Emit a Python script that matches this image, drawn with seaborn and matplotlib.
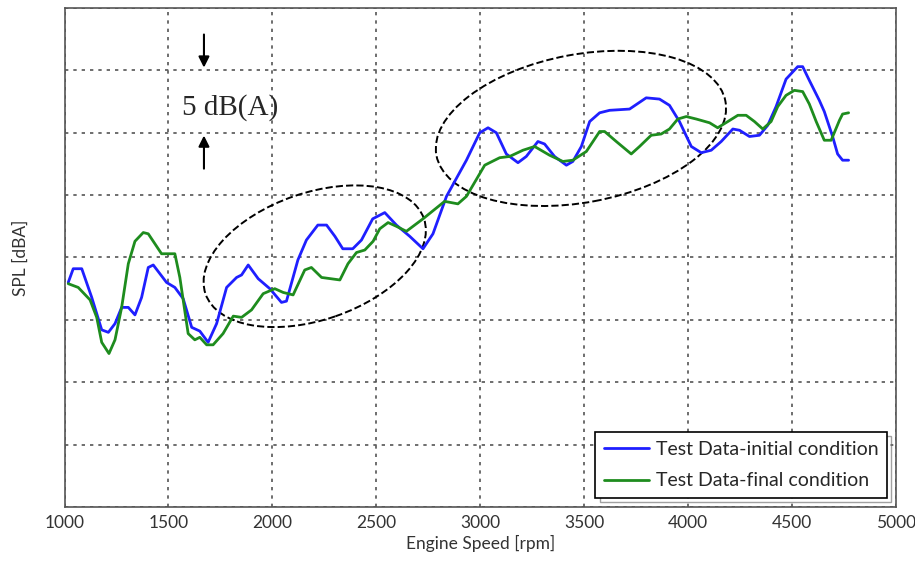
#!/usr/bin/env python3
# -*- coding: utf-8 -*-
"""SPL vs engine speed, initial vs final condition."""

import numpy as np
import pandas as pd
import seaborn as sns
import matplotlib.pyplot as plt
from matplotlib.patches import Ellipse
from matplotlib.transforms import ScaledTranslation

# %% Data

lst_rpm_init = [1018, 1042, 1083, 1131, 1179, 1211, 1243, 1275, 1307, 1339,
                1371, 1403, 1427, 1459, 1491, 1531, 1571, 1612, 1651, 1691,
                1732, 1780, 1828, 1852, 1884, 1932, 1988, 2044, 2068, 2123,
                2164, 2219, 2261, 2301, 2339, 2387, 2429, 2483, 2541, 2597,
                2661, 2725, 2773, 2838, 2934, 2998, 3038, 3078, 3126, 3182,
                3222, 3278, 3310, 3358, 3415, 3446, 3487, 3527, 3575, 3623,
                3719, 3799, 3863, 3911, 3959, 4016, 4064, 4112, 4160, 4216,
                4248, 4296, 4344, 4384, 4424, 4472, 4528, 4552, 4584, 4632,
                4656, 4696, 4720, 4744, 4773]
lst_spl_init = [78.0, 79.1, 79.1, 76.8, 74.2, 74.0, 74.7, 76.0, 76.0, 75.4,
                76.8, 79.2, 79.4, 78.7, 78.0, 77.6, 76.7, 74.4, 74.1, 73.2,
                74.7, 77.6, 78.4, 78.6, 79.4, 78.3, 77.5, 76.4, 76.5, 79.8,
                81.4, 82.6, 82.6, 81.7, 80.7, 80.7, 81.4, 83.1, 83.6, 82.6,
                81.7, 80.7, 81.9, 84.9, 87.8, 90.0, 90.4, 90.0, 88.3, 87.6,
                88.1, 89.3, 89.1, 88.1, 87.4, 87.7, 88.9, 90.9, 91.6, 91.8,
                91.9, 92.8, 92.7, 92.2, 90.9, 88.9, 88.4, 88.6, 89.3, 90.3,
                90.2, 89.7, 89.8, 90.6, 92.1, 94.3, 95.3, 95.3, 94.2, 92.6,
                91.7, 89.7, 88.3, 87.8, 87.8]

lst_rpm_final = [1018, 1066, 1123, 1155, 1179, 1214, 1243, 1275, 1307, 1339,
                 1379, 1403, 1435, 1467, 1531, 1555, 1595, 1627, 1651, 1684,
                 1715, 1763, 1812, 1852, 1900, 1956, 2012, 2052, 2100, 2156,
                 2188, 2237, 2325, 2364, 2405, 2445, 2485, 2517, 2557, 2597,
                 2645, 2725, 2829, 2893, 2934, 3022, 3094, 3142, 3206, 3262,
                 3334, 3398, 3446, 3511, 3575, 3599, 3655, 3727, 3767, 3823,
                 3871, 3911, 3951, 3992, 4040, 4104, 4143, 4192, 4240, 4280,
                 4320, 4360, 4400, 4432, 4472, 4512, 4552, 4584, 4617, 4656,
                 4689, 4729, 4744, 4773]
lst_spl_final = [77.9, 77.6, 76.6, 75.2, 73.2, 72.3, 73.4, 76.0, 79.5, 81.3,
                 82.0, 81.9, 81.1, 80.3, 80.3, 78.4, 73.9, 73.4, 73.6, 73.0,
                 73.0, 73.9, 75.3, 75.2, 75.8, 77.1, 77.5, 77.2, 77.0, 79.0,
                 79.2, 78.4, 78.2, 79.5, 80.4, 80.6, 81.3, 82.3, 82.8, 82.5,
                 82.1, 83.1, 84.5, 84.3, 84.9, 87.4, 88.0, 88.1, 88.6, 88.9,
                 88.2, 87.7, 87.8, 88.5, 90.1, 90.1, 89.3, 88.3, 88.9, 89.8,
                 89.9, 90.3, 91.1, 91.3, 91.1, 90.8, 90.4, 90.9, 91.4, 91.4,
                 90.9, 90.3, 90.9, 92.1, 93.0, 93.4, 93.3, 92.3, 90.9, 89.4,
                 89.4, 91.0, 91.5, 91.6]

lst_names = ['Test Data-initial condition', 'Test Data-final condition']
lst_colors = ['#1f1fff', '#1e8c1e']

# x / y axis settings
lst_xticks = list(range(1000, 5001, 500))
lst_yticks = list(range(60, 101, 5))

# %% Build data frame

df_init = pd.DataFrame({'rpm': lst_rpm_init, 'spl': lst_spl_init,
                        'cond': lst_names[0]})
df_final = pd.DataFrame({'rpm': lst_rpm_final, 'spl': lst_spl_final,
                         'cond': lst_names[1]})
df = pd.concat([df_init, df_final], ignore_index=True)

# %% Plot

sns.set_style('white')
plt.rcParams['font.family'] = ['Lato', 'DejaVu Sans']

fig = plt.figure(figsize=(9.15, 5.61), dpi=100)
ax = fig.add_axes([0.0705, 0.0963, 0.9085, 0.8894])

sns.lineplot(data=df, x='rpm', y='spl', hue='cond', palette=lst_colors,
             linewidth=2, sort=False, ax=ax)

ax.set_xlim(1000, 5000)
ax.set_ylim(60, 100)
ax.set_xticks(lst_xticks)
ax.set_yticks(lst_yticks)
ax.set_yticklabels([])
ax.tick_params(axis='x', labelsize=12.5, colors='#333333', length=0, pad=6)
ax.tick_params(axis='y', length=0)
ax.grid(True, color='#555555', linestyle=(0, (2, 3)), linewidth=1.2)
for spine in ax.spines.values():
    spine.set_color('#555555')
    spine.set_linewidth(1.2)

ax.set_xlabel('Engine Speed [rpm]', fontsize=12.5, color='#333333',
              labelpad=3)
ax.set_ylabel('SPL [dBA]', fontsize=12.5, color='#333333', labelpad=22)

leg = ax.legend(loc='lower right', fontsize=14, frameon=True,
                fancybox=False, edgecolor='black', framealpha=1,
                handlelength=2.3, handletextpad=0.35, borderaxespad=0.45,
                title=None, borderpad=0.45, labelspacing=0.75,
                shadow={'ox': 3, 'oy': -3, 'facecolor': 'white',
                        'edgecolor': '#444444', 'linewidth': 1})
leg.get_frame().set_linewidth(1.2)

# dashed ellipses marking regions (width / height in inches)
for cx, cy, w, h, ang in [(2204, 80.1, 2.31, 1.27, 19),
                          (3485, 90.35, 2.94, 1.48, 10.6)]:
    trans = fig.dpi_scale_trans + ScaledTranslation(cx, cy, ax.transData)
    ax.add_patch(Ellipse((0, 0), w, h, angle=ang, transform=trans,
                         fill=False, edgecolor='black', linestyle='--',
                         linewidth=1.4))

# 5 dB(A) scale annotation
ax.annotate('', xy=(1671, 95), xytext=(1671, 98.1),
            arrowprops=dict(arrowstyle='-|>', color='black', lw=1.5,
                            mutation_scale=16))
ax.annotate('', xy=(1671, 90), xytext=(1671, 86.9),
            arrowprops=dict(arrowstyle='-|>', color='black', lw=1.5,
                            mutation_scale=16))
ax.text(1795, 92.0, '5 dB(A)', fontsize=21, family='Liberation Serif',
        ha='center', va='center')

fig.savefig('out.png', dpi=100)
